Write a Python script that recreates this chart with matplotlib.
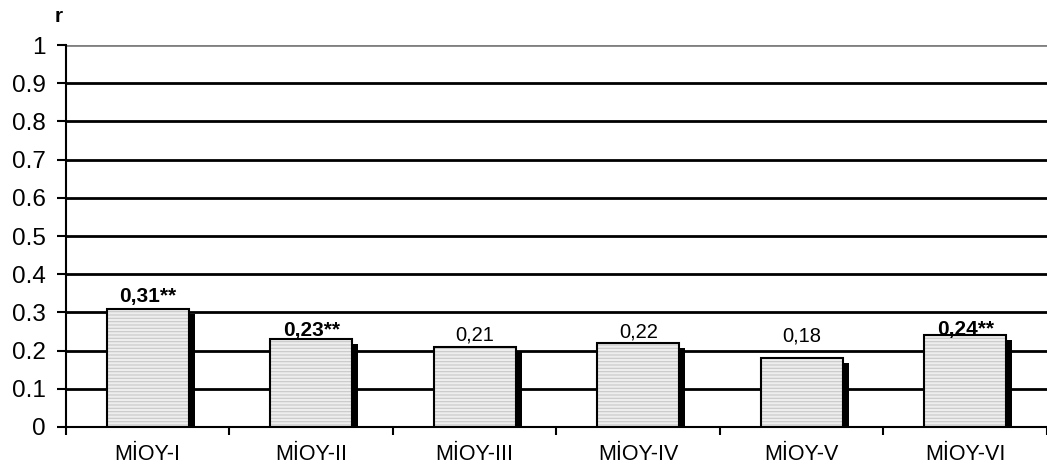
#! /usr/bin/env python3
import numpy as np
import matplotlib.pyplot as plt

plt.rcParams['font.family'] = ['Liberation Sans', 'DejaVu Sans']

categories = ['MİOY-I', 'MİOY-II', 'MİOY-III', 'MİOY-IV', 'MİOY-V', 'MİOY-VI']
r_values = [0.31, 0.23, 0.21, 0.22, 0.18, 0.24]
r_labels = ['0,31**', '0,23**', '0,21', '0,22', '0,18', '0,24**']
significant = [True, True, False, False, False, True]
label_lift = [4.7, 2.2, 4.3, 4.3, 12.2, 0.0]   # points above bar top
yticks = [0, 0.1, 0.2, 0.3, 0.4, 0.5, 0.6, 0.7, 0.8, 0.9, 1]
ytick_labels = ['0', '0.1', '0.2', '0.3', '0.4', '0.5', '0.6', '0.7', '0.8', '0.9', '1']

fig = plt.figure(figsize=(10.47, 4.70), dpi=100)
ax = fig.add_axes([0.063, 0.0915, 0.937, 0.8125])

x = np.arange(len(categories))
width = 0.5

# gridlines
for yv in yticks[1:]:
    col = '#808080' if yv == 1 else 'black'
    ax.axhline(yv, color=col, linewidth=2, zorder=1)

# drop shadow behind each bar
dx, dy = 0.037, 0.013
ax.bar(x + dx, np.array(r_values) - dy, width=width, color='black',
       linewidth=0, zorder=2)
# light striped fill, then the black outline on top
plt.rcParams['hatch.linewidth'] = 0.8
ax.bar(x, r_values, width=width, color='#eeeeee', edgecolor='#c8c8c8',
       linewidth=0, hatch='-----', zorder=3)
ax.bar(x, r_values, width=width, fill=False, edgecolor='black',
       linewidth=1.5, zorder=3.5)

for xi, v, lab, sig, lift in zip(x, r_values, r_labels, significant, label_lift):
    ax.annotate(lab, (xi, v), xytext=(0, lift), textcoords='offset points',
                ha='center', va='baseline', fontsize=15 if sig else 14.5,
                fontweight='bold' if sig else 'normal', zorder=4)

ax.set_xlim(-0.5, len(categories) - 0.5)
ax.set_ylim(0, 1)
ax.set_yticks(yticks)
ax.set_yticklabels(ytick_labels, fontsize=17.5)
ax.set_xticks(x)
ax.set_xticklabels(categories, fontsize=15.5)
ax.tick_params(axis='x', length=0, pad=12)
ax.set_xticks(np.arange(len(categories) + 1) - 0.5, minor=True)
ax.tick_params(axis='x', which='minor', length=6, width=1.5, direction='out')
ax.tick_params(axis='y', length=6.5, width=1.5, direction='out', pad=8)

for s in ['top', 'right']:
    ax.spines[s].set_visible(False)
ax.spines['left'].set_linewidth(1.5)
ax.spines['bottom'].set_linewidth(1.5)

fig.text(59 / 1047, 1 - 16 / 470, 'r', fontsize=15, fontweight='bold',
         ha='center', va='center')

fig.savefig('out.png', dpi=100)
